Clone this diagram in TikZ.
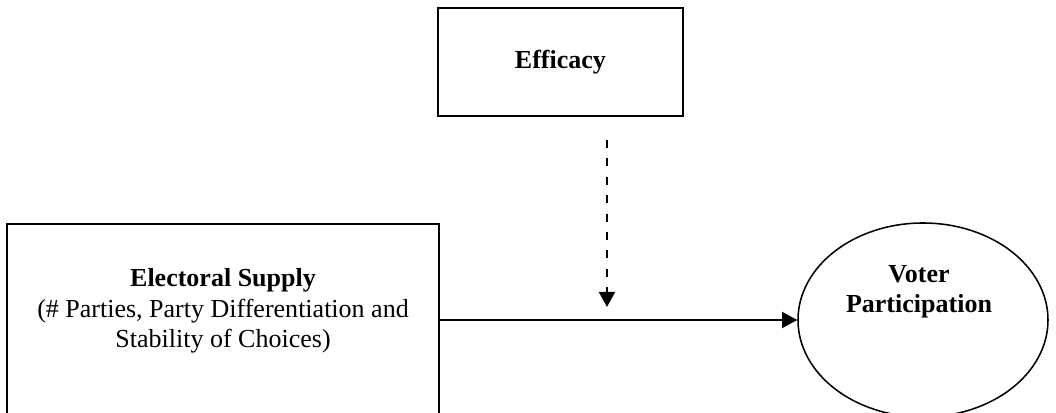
\documentclass[tikz,border=0pt]{standalone}
\usepackage{fontspec}
\setmainfont{Liberation Serif}
\usetikzlibrary{arrows.meta,shapes.geometric}

\tikzset{
  box/.style={draw, line width=1.5pt, rectangle, inner sep=0pt},
  oval/.style={draw, line width=1.1pt, ellipse, inner sep=0pt},
  label text/.style={align=center, font=\fontsize{18.5}{21.5}\selectfont},
  tip/.style={-{Triangle[length=0.38cm,width=0.4cm]}, line width=1.5pt}
}

\begin{document}
\begin{tikzpicture}
\clip (0,0) rectangle (26.4,10.3);

% Boxes
\node[box, minimum width=6.125cm, minimum height=2.7cm] (efficacy) at (14.01,8.75) {};
\node[label text] (efficacytext) at (efficacy.center) {\textbf{Efficacy}};
\node[box, minimum width=10.8cm, minimum height=4.8cm] (supply) at (5.575,2.3) {};
\node[label text] (supplytext) at ([yshift=0.225cm]supply.center)
  {\textbf{Electoral Supply}\\(\# Parties, Party Differentiation and\\Stability of Choices)};
\node[oval, minimum width=6.25cm, minimum height=4.85cm] (voter) at (23.075,2.3) {};
\node[label text] (votertext) at ([xshift=-0.1cm,yshift=0.7cm]voter.center)
  {\textbf{Voter}\\\textbf{Participation}};

% Main path
\draw[tip] (supply.east) -- (voter.west);

% Moderation
\coordinate (dashtop) at (15.175,6.8);
\coordinate (dashend) at (15.175,2.625);
\draw[tip, line width=1.9pt, dash pattern=on 0.2cm off 0.26cm] (dashtop) -- (dashend);
\end{tikzpicture}
\end{document}
